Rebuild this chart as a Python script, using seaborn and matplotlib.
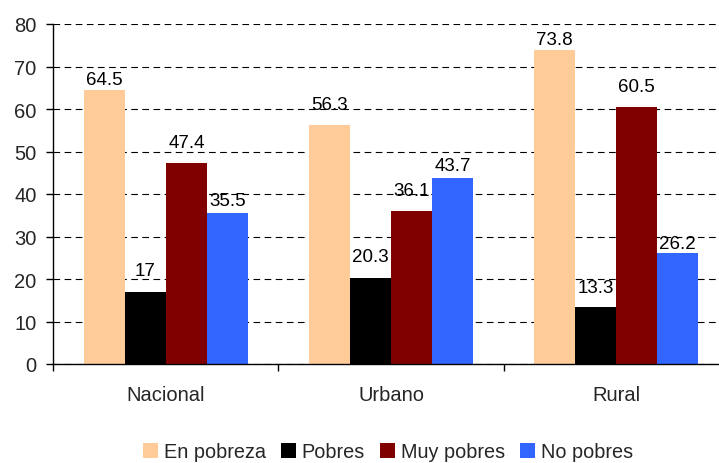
import matplotlib
matplotlib.use("Agg")
import matplotlib.pyplot as plt
import seaborn as sns
import pandas as pd
from matplotlib.patches import Patch

categories = ["Nacional", "Urbano", "Rural"]
series = ["En pobreza", "Pobres", "Muy pobres", "No pobres"]
en_pobreza = [64.5, 56.3, 73.8]
pobres = [17, 20.3, 13.3]
muy_pobres = [47.4, 36.1, 60.5]
no_pobres = [35.5, 43.7, 26.2]
colors = ["#FFCC99", "#000000", "#800000", "#3366FF"]

# label gap above each bar (points), per series, per category (style only)
label_pads = [
    [1.4, 8.1, 1.4],
    [9.1, 9.1, 8.1],
    [8.6, 8.6, 8.9],
    [2.9, 2.9, 0.5],
]

rows = []
for s, vals in zip(series, [en_pobreza, pobres, muy_pobres, no_pobres]):
    for c, v in zip(categories, vals):
        rows.append({"cat": c, "serie": s, "val": v})
df = pd.DataFrame(rows)

sns.set_style("white")
plt.rcParams["font.family"] = ["Liberation Sans", "DejaVu Sans"]

fig = plt.figure(figsize=(7.19, 4.64), dpi=100)
ax = fig.add_axes([53.3 / 719, 99 / 464, 675.4 / 719, 340 / 464])

sns.barplot(data=df, x="cat", y="val", hue="serie", order=categories,
            hue_order=series, palette=colors, width=0.73, gap=0,
            saturation=1, linewidth=0, ax=ax, legend=False, zorder=2)

ax.set_ylim(0, 80)
ax.set_xlim(-0.5, 2.5)
ax.set_yticks(range(0, 81, 10))
ax.yaxis.grid(True, color="black", linestyle=(0, (6, 4)), linewidth=0.8, zorder=0)
ax.set_axisbelow(True)
ax.xaxis.grid(False)
for side in ["top", "right"]:
    ax.spines[side].set_visible(False)
for side in ["left", "bottom"]:
    ax.spines[side].set_color("black")
    ax.spines[side].set_linewidth(1)
ax.set_xlabel("")
ax.set_ylabel("")
ax.tick_params(axis="y", which="major", length=5, width=1, color="black",
               labelsize=14.5, pad=7, left=True)
ax.tick_params(axis="x", which="major", length=0, labelsize=14.5, pad=15)
ax.set_xticks([-0.5, 0.5, 1.5, 2.5], minor=True)
ax.tick_params(axis="x", which="minor", length=5, width=1, color="black", bottom=True)

for cont, pads in zip(ax.containers, label_pads):
    for bar, v, p in zip(cont, cont.datavalues, pads):
        ax.annotate(f"{v:g}", xy=(bar.get_x() + bar.get_width() / 2, bar.get_height()),
                    xytext=(0, p), textcoords="offset points", ha="center",
                    va="bottom", fontsize=13.5, color="black", zorder=3)

handles = [Patch(facecolor=c, edgecolor="none") for c in colors]
fig.legend(handles, series, loc="center", bbox_to_anchor=(388 / 719, 11 / 464),
           bbox_transform=fig.transFigure, ncol=4, frameon=False, fontsize=14.3,
           handlelength=0.75, handleheight=0.75, handletextpad=0.3,
           columnspacing=0.75, borderaxespad=0)

fig.savefig("out.png", dpi=100)
